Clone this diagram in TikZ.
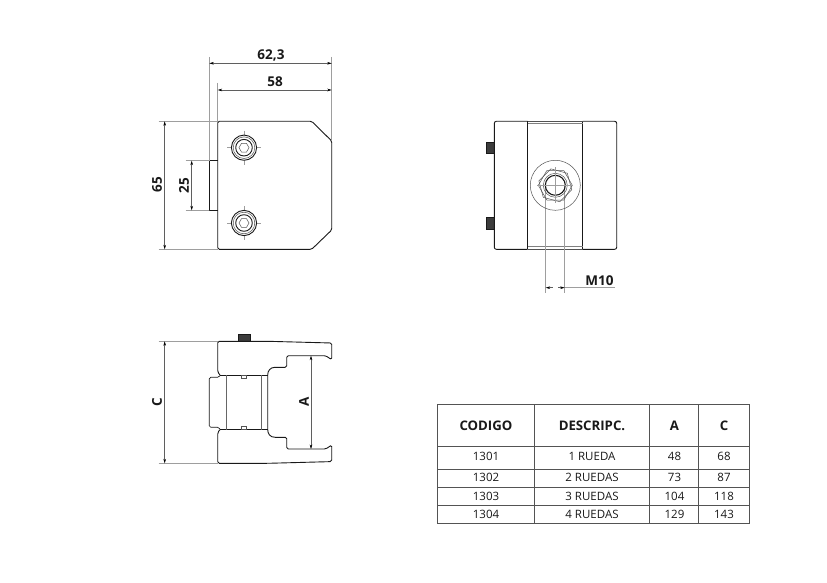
\documentclass[tikz,border=0pt]{standalone}
\usepackage{fontspec}
\setmainfont{Open Sans}
\usetikzlibrary{arrows.meta}
\definecolor{dimc}{gray}{0.62}
\definecolor{ink}{gray}{0.1}
\tikzset{
 part/.style={draw=ink,line width=0.9pt,line join=round},
 thin part/.style={draw=ink!75,line width=0.5pt},
 cline/.style={draw=dimc,line width=0.4pt},
 ext/.style={draw=dimc,line width=0.5pt},
 dimline/.style={draw=dimc!60!black,line width=0.5pt,{Stealth[length=4.5pt,width=2.6pt,color=black]}-{Stealth[length=4.5pt,width=2.6pt,color=black]}},
 dimhead/.style={draw=dimc!60!black,line width=0.5pt,-{Stealth[length=4.5pt,width=2.6pt,color=black]}},
 dimlab/.style={font=\bfseries\fontsize{13.5}{15}\selectfont,text=ink,inner sep=0pt},
 stub/.style={fill=ink!85,draw=ink,line width=0.4pt},
 tabl/.style={draw=ink!75,line width=0.7pt},
 thead/.style={font=\bfseries\fontsize{13.2}{15}\selectfont,text=ink,inner sep=0pt},
 tcell/.style={font=\fontsize{11.5}{13}\selectfont,text=ink,inner sep=0pt},
}
\newcommand{\capscrew}[1]{%
 \begin{scope}[shift={(#1)}]
  \draw[cline] (-17,0)--(17,0) (0,-17)--(0,17);
  \draw[part,fill=white] (0,0) circle (12.6);
  \draw[thin part] (0,0) circle (10.8);
  \draw[part] (0,0) circle (8.3);
  \draw[thin part] (0:5)--(60:5)--(120:5)--(180:5)--(240:5)--(300:5)--cycle;
 \end{scope}}
\begin{document}
\begin{tikzpicture}[x=1pt,y=-1pt]
\useasboundingbox (0,0) rectangle (827,583);
\fill[white] (0,0) rectangle (827,583);

% ---------- front view ----------
\draw[part,rounded corners=1.5pt] (217.7,121.3)--(311.7,121.3)--(331.7,141)--(331.7,230)--(311.7,249.3)--(217.7,249.3)--cycle;
\draw[part,line width=0.7pt] (217.7,160.7)--(209.3,160.7)--(209.3,210.3)--(217.7,210.3);
\capscrew{244,147.7}
\capscrew{244,223}
\coordinate (a1) at (209.3,63.3); \coordinate (a2) at (331.7,63.3);
\coordinate (b1) at (217.7,90);   \coordinate (b2) at (331.7,90);
\coordinate (c1) at (164.7,121.3);\coordinate (c2) at (164.7,249.3);
\coordinate (d1) at (191.7,160.7);\coordinate (d2) at (191.7,210.3);
\draw[ext] (209.3,57)--(209.3,160.7);
\draw[ext] (331.7,57)--(331.7,141);
\draw[ext] (217.7,83)--(217.7,121.3);
\draw[ext] (158.7,121.3)--(217.7,121.3);
\draw[ext] (158.7,249.3)--(217.7,249.3);
\draw[ext] (185.7,160.7)--(209.3,160.7);
\draw[ext] (185.7,210.3)--(209.3,210.3);
\draw[dimline] (a1)--(a2);
\draw[dimline] (b1)--(b2);
\draw[dimline] (c1)--(c2);
\draw[dimline] (d1)--(d2);
\node[dimlab] (l623) at (271,55.5) {62,3};
\node[dimlab] (l58) at (275,82) {58};
\node[dimlab,rotate=90] (l65) at (157,185) {65};
\node[dimlab,rotate=90] (l25) at (184,185.5) {25};

% ---------- end view ----------
\draw[stub] (486.3,142) rectangle (494.3,153.3);
\draw[stub] (486.3,217.3) rectangle (494.3,229.3);
\draw[part,rounded corners=2pt] (527.7,121.3)--(494.3,121.3)--(494.3,249.3)--(527.7,249.3);
\draw[part,rounded corners=2pt] (582.7,121.3)--(616.7,121.3)--(616.7,249.3)--(582.7,249.3);
\draw[part] (527.7,121.3)--(527.7,249.3);
\draw[part] (582.7,121.3)--(582.7,249.3);
\draw[thin part] (527.7,121.3)--(582.7,121.3);
\draw[thin part] (527.7,249.3)--(582.7,249.3);
\draw[draw=gray,line width=0.8pt] (528,123.5)--(582.5,123.5);
\draw[draw=gray,line width=1.2pt] (528,246.5)--(582.5,246.5);
\coordinate (m1) at (545.7,287.7); \coordinate (m2) at (564.7,287.7); \coordinate (m3) at (615,287.7);
\coordinate (m0) at (552.5,287.7); \coordinate (m4) at (558,287.7);
\draw[ext] (545.7,186)--(545.7,293);
\draw[ext] (564.7,186)--(564.7,293);
\begin{scope}[shift={(555.3,185.3)}]
 \draw[thin part] (0,0) circle (25);
 \draw[thin part] (0:17)--(60:17)--(120:17)--(180:17)--(240:17)--(300:17)--cycle;
 \draw[thin part] (15:17)--(75:17)--(135:17)--(195:17)--(255:17)--(315:17)--cycle;
 \draw[part,line width=1.1pt] (0,0) circle (10);
 \draw[thin part] (0,0) circle (12);
 \draw[cline] (-18,0)--(18,0) (0,-18)--(0,18);
\end{scope}
\draw[ext] (m2)--(m3);
\draw[dimhead] (m0)--(m1);
\draw[dimhead] (m4)--(m2);
\node[dimlab] (lm10) at (599.5,281) {M10};

% ---------- side view ----------
\draw[stub] (237.7,334.3) rectangle (250,341.3);
\draw[part,rounded corners=1.5pt] (220,375)--(217.7,372)--(217.7,341.3)--(268,341.3)--(331.7,343)--(331.7,359.7)--(325.7,355.7)--(286.7,355.7)--(286.7,367.3)--(275,367.3);
\draw[part] (275,367.3) .. controls (270,367.3) and (267.7,371) .. (267.7,375) -- (267.7,429.6) .. controls (267.7,433.6) and (270,437.3) .. (275,437.3);
\draw[part,rounded corners=1.5pt] (275,437.3)--(286.7,437.3)--(286.7,449)--(325.7,449)--(331.7,445)--(331.7,461.6)--(268,463.3)--(217.7,463.3)--(217.7,432.6)--(220,429.6);
\draw[part] (220,375)--(267.7,375);
\draw[part] (220,429.6)--(267.7,429.6);
\draw[part,line width=0.7pt,rounded corners=1.5pt] (220,375.5)--(219,377.3)--(209.3,377.3)--(209.3,427.3)--(219,427.3)--(220,429.3);
\draw[thin part,line width=0.9pt,draw=gray!80!black] (226,375)--(226,429.6);
\draw[thin part,line width=0.9pt,draw=gray!80!black] (261.7,375)--(261.7,429.6);
\draw[thin part] (241.7,375) rectangle (246,378.3);
\draw[thin part] (241.7,426) rectangle (246,429.6);
\coordinate (e1) at (164.7,341.3); \coordinate (e2) at (164.7,463.3);
\coordinate (f1) at (311,355.7);   \coordinate (f2) at (311,449);
\draw[ext] (158.7,341.3)--(217.7,341.3);
\draw[ext] (158.7,463.3)--(217.7,463.3);
\draw[dimline] (e1)--(e2);
\draw[dimline] (f1)--(f2);
\node[dimlab,rotate=90] (lc) at (157,402) {C};
\node[dimlab,rotate=90] (la) at (304,402) {A};

% ---------- table ----------
\draw[tabl] (437.3,404) rectangle (749,523.3);
\foreach \yy in {446.7,469.3,487.3,505} \draw[tabl] (437.3,\yy)--(749,\yy);
\foreach \xx in {534.3,649.3,698.3} \draw[tabl] (\xx,404)--(\xx,523.3);
\node[thead] (h1) at (486,425.5) {CODIGO};
\node[thead] (h2) at (592,425.5) {DESCRIPC.};
\node[thead] (h3) at (674.5,425.5) {A};
\node[thead] (h4) at (724,425.5) {C};
\node[tcell] (r11) at (486,456.5) {1301};
\node[tcell] (r12) at (592,456.5) {1 RUEDA};
\node[tcell] (r13) at (674.5,456.5) {48};
\node[tcell] (r14) at (724,456.5) {68};
\node[tcell] (r21) at (486,477) {1302};
\node[tcell] (r22) at (592,477) {2 RUEDAS};
\node[tcell] (r23) at (674.5,477) {73};
\node[tcell] (r24) at (724,477) {87};
\node[tcell] (r31) at (486,496.5) {1303};
\node[tcell] (r32) at (592,496.5) {3 RUEDAS};
\node[tcell] (r33) at (674.5,496.5) {104};
\node[tcell] (r34) at (724,496.5) {118};
\node[tcell] (r41) at (486,514.5) {1304};
\node[tcell] (r42) at (592,514.5) {4 RUEDAS};
\node[tcell] (r43) at (674.5,514.5) {129};
\node[tcell] (r44) at (724,514.5) {143};
\end{tikzpicture}
\end{document}
